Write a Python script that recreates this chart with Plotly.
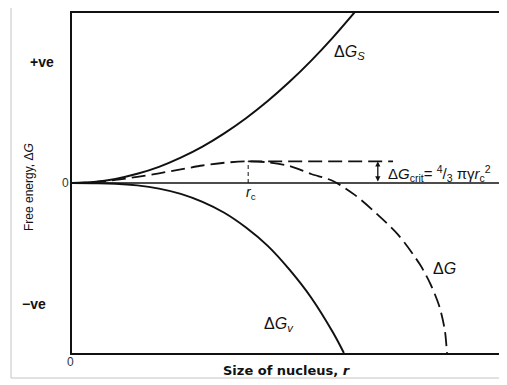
import plotly.graph_objects as go

# ---- data (r in arbitrary units, free energy in arbitrary units) ----
r_s = [0, 0.5, 1.0, 1.5, 2.0, 2.5, 3.0, 3.5, 4.0, 4.5, 5.0, 5.5, 6.0, 6.5]
dG_s = [0, 0.06, 0.24, 0.54, 0.95, 1.49, 2.14, 2.92, 3.81, 4.82, 5.95, 7.2, 8.57, 10.05]

r_v = [0, 0.5, 1.0, 1.5, 2.0, 2.5, 3.0, 3.5, 4.0, 4.5, 5.0, 5.5, 6.0, 6.25]
dG_v = [0, -0.01, -0.04, -0.14, -0.33, -0.64, -1.11, -1.75, -2.62, -3.7, -5.1, -6.75, -8.8, -10.0]

r_tot = [0, 0.5, 1.0, 1.5, 2.0, 2.5, 3.0, 3.5, 4.0, 4.5, 5.0, 5.5, 6.0, 6.5, 7.0, 7.5, 8.0, 8.25, 8.45, 8.57, 8.62]
dG_tot = [0, 0.05, 0.18, 0.36, 0.57, 0.8, 1.03, 1.19, 1.27, 1.22, 1.0, 0.53, 0.12, -0.7, -1.8, -3.05, -4.8, -6.0, -7.3, -8.65, -10.0]

r_c = 4.05
dG_crit = 1.27
r_crit_end = 7.38
r_arrow = 7.03

y_tick_vals = [7.1, 0, -7.1]
y_tick_text = ["+ve", "0", "\u2212ve"]

BLACK = "#111111"

# page body adds an 8px offset; the figure is sized to compensate
OFF = 8
W, H = 507 - OFF, 385 - OFF
L, R, T, B = 72 - OFF, 0, 13 - OFF, 32
pw, ph = W - L - R, H - T - B
XR = [0, 10]
YR = [-10, 10]


def px(xp):
    """page x pixel -> paper x"""
    return (xp - OFF - L) / pw


def py(yp):
    """page y pixel -> paper y"""
    return (H - B - (yp - OFF)) / ph


def yd(v):
    """data y -> paper y"""
    return (v - YR[0]) / (YR[1] - YR[0])


fig = go.Figure()
fig.add_trace(go.Scatter(x=r_s, y=dG_s, mode="lines", line=dict(color=BLACK, width=2, shape="spline"), hoverinfo="skip"))
fig.add_trace(go.Scatter(x=r_v, y=dG_v, mode="lines", line=dict(color=BLACK, width=2, shape="spline"), hoverinfo="skip"))
fig.add_trace(go.Scatter(x=r_tot, y=dG_tot, mode="lines",
                         line=dict(color=BLACK, width=1.8, dash="14px,6px", shape="spline", smoothing=0.8),
                         hoverinfo="skip"))
fig.add_trace(go.Scatter(x=[r_c, r_c], y=[0, dG_crit], mode="lines",
                         line=dict(color=BLACK, width=1, dash="4px,3px"), hoverinfo="skip"))
fig.add_trace(go.Scatter(x=[r_c, r_crit_end], y=[dG_crit, dG_crit], mode="lines",
                         line=dict(color=BLACK, width=1.6, dash="14px,6px"), hoverinfo="skip"))
fig.add_trace(go.Scatter(x=XR, y=[0, 0], mode="lines", line=dict(color=BLACK, width=1.6), hoverinfo="skip"))

fig.update_xaxes(range=XR, showgrid=False, zeroline=False, showticklabels=False, ticks="",
                 showline=True, linecolor=BLACK, linewidth=2, mirror=True)
fig.update_yaxes(range=YR, showgrid=False, zeroline=False, showticklabels=False, ticks="",
                 showline=True, linecolor=BLACK, linewidth=2)

tick_font = dict(family="Liberation Sans, Arial, sans-serif", size=14, color=BLACK)
zero_font = dict(family="Liberation Sans, Arial, sans-serif", size=12, color="#333333")

ann = []
# y tick labels (placed to match the scanned figure)
ann.append(dict(x=px(42), y=yd(y_tick_vals[0]), text="<b>" + y_tick_text[0] + "</b>", font=tick_font,
                xanchor="center", yanchor="middle"))
ann.append(dict(x=px(65), y=yd(y_tick_vals[1]), text=y_tick_text[1], font=zero_font,
                xanchor="center", yanchor="middle"))
ann.append(dict(x=px(34), y=yd(y_tick_vals[2]), text="<b>" + y_tick_text[2] + "</b>", font=tick_font,
                xanchor="center", yanchor="middle"))
ann.append(dict(x=px(70), y=py(362), text="0", font=zero_font, xanchor="center", yanchor="middle"))
# axis titles
ann.append(dict(x=px(29), y=py(187), text="Free energy, \u0394<i>G</i>", textangle=-90,
                xanchor="center", yanchor="middle",
                font=dict(family="Liberation Sans Narrow, Liberation Sans, sans-serif", size=12, color=BLACK)))
ann.append(dict(x=px(287), y=py(370), text="<b>Size of nucleus, <i>r</i></b>", xanchor="center", yanchor="middle",
                font=dict(family="DejaVu Sans, sans-serif", size=13, color=BLACK)))
# curve labels
lab_font = dict(family="Liberation Sans, Arial, sans-serif", size=16, color=BLACK)
ann.append(dict(x=px(332), y=py(52), text="\u0394<i>G</i><sub><i>S</i></sub>", xanchor="left", yanchor="middle", font=lab_font))
ann.append(dict(x=px(262), y=py(324), text="\u0394<i>G</i><sub><i>v</i></sub>", xanchor="left", yanchor="middle", font=lab_font))
ann.append(dict(x=px(431), y=py(268), text="\u0394<i>G</i>", xanchor="left", yanchor="middle", font=lab_font))
ann.append(dict(x=px(251), y=py(193), text="<i>r</i><sub>c</sub>", xanchor="center", yanchor="middle",
                font=dict(family="Liberation Sans, Arial, sans-serif", size=14, color=BLACK)))
ann.append(dict(x=px(386), y=py(173),
                text="\u0394<i>G</i><sub>crit</sub>= <sup>4</sup>/<sub>3</sub> \u03c0\u03b3<i>r</i><sub>c</sub><sup>2</sup>",
                xanchor="left", yanchor="middle",
                font=dict(family="Liberation Sans, Arial, sans-serif", size=15, color=BLACK)))
for a in ann:
    a.update(xref="paper", yref="paper", showarrow=False)
# double-headed arrow showing the barrier height
ann.append(dict(x=r_arrow, y=dG_crit, ax=r_arrow, ay=0, xref="x", yref="y", axref="x", ayref="y",
                text="", showarrow=True, arrowhead=2, arrowside="end+start", arrowsize=0.8,
                arrowwidth=1.3, arrowcolor=BLACK))
fig.update_layout(annotations=ann)

# scan frame edges
fig.add_shape(type="line", xref="paper", yref="paper", x0=px(11), x1=px(11), y0=py(0), y1=py(378),
              line=dict(color="#c4c4c4", width=1))
fig.add_shape(type="line", xref="paper", yref="paper", x0=px(11), x1=px(507), y0=py(378), y1=py(378),
              line=dict(color="#c4c4c4", width=1))
fig.add_shape(type="line", xref="paper", yref="y", x0=px(505.5), x1=px(505.5), y0=-3.4, y1=YR[0],
              line=dict(color="#777777", width=1))

fig.update_layout(width=W, height=H, margin=dict(l=L, r=R, t=T, b=B),
                  paper_bgcolor="white", plot_bgcolor="white", showlegend=False)

fig.write_html("out.html")
